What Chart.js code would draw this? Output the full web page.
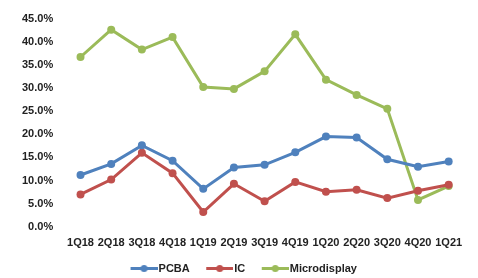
<!DOCTYPE html>
<html>
<head>
<meta charset="utf-8">
<script src="https://cdn.jsdelivr.net/npm/chart.js@4"></script>
<style>
  html, body { margin: 0; padding: 0; background: #fff; }
  #wrap { width: 478px; height: 278px; }
</style>
</head>
<body>
<div id="wrap"><canvas id="chart"></canvas></div>
<script>
var quarters = ['1Q18', '2Q18', '3Q18', '4Q18', '1Q19', '2Q19', '3Q19', '4Q19', '1Q20', '2Q20', '3Q20', '4Q20', '1Q21'];
var pcba = [11.2, 13.6, 17.6, 14.3, 8.2, 12.8, 13.4, 16.1, 19.5, 19.3, 14.6, 13.0, 14.1];
var ic = [7.0, 10.2, 16.0, 11.6, 3.2, 9.3, 5.5, 9.7, 7.6, 8.0, 6.2, 7.8, 9.1];
var microdisplay = [36.7, 42.6, 38.3, 41.0, 30.2, 29.8, 33.6, 41.6, 31.8, 28.5, 25.5, 5.8, 8.8];

var FONT = { family: '"Liberation Sans", Arial, sans-serif', size: 11, weight: 'bold' };
var GAP = 9;      // blank space before each legend marker
var LINE = 27;    // legend marker line length
var BOX = GAP + LINE;
var EXT = 4.5;    // marker runs this far past its box, up to the text

// legend marker: short line with a dot in the middle, right-aligned in the canvas
function marker(color) {
    var c = document.createElement('canvas');
    c.width = BOX + 2 * EXT; c.height = 9;
    var g = c.getContext('2d');
    var x0 = c.width - LINE;
    g.strokeStyle = color; g.lineWidth = 3;
    g.beginPath(); g.moveTo(x0, 4.5); g.lineTo(c.width, 4.5); g.stroke();
    g.fillStyle = color;
    g.beginPath(); g.arc(x0 + LINE / 2, 4.5, 3.5, 0, Math.PI * 2); g.fill();
    return c;
}

function series(label, data, color) {
    return {
        label: label,
        data: data,
        borderColor: color,
        backgroundColor: color,
        borderWidth: 3,
        pointRadius: 4,
        pointHoverRadius: 4,
        pointBorderWidth: 0,
        tension: 0
    };
}

new Chart(document.getElementById('chart'), {
    type: 'line',
    data: {
        labels: quarters,
        datasets: [
            series('PCBA', pcba, '#4F81BD'),
            series('IC', ic, '#C0504D'),
            series('Microdisplay', microdisplay, '#9BBB59')
        ]
    },
    options: {
        responsive: true,
        maintainAspectRatio: false,
        animation: false,
        layout: { padding: { left: 10, right: 14, top: 1.4, bottom: -6 } },
        scales: {
            x: {
                offset: true,
                grid: { display: false, drawTicks: false },
                border: { display: false },
                ticks: { font: FONT, color: '#222', padding: 10, maxRotation: 0, autoSkip: false }
            },
            y: {
                min: 0,
                max: 45,
                grid: { display: false, drawTicks: false },
                border: { display: false },
                ticks: {
                    stepSize: 5,
                    font: FONT,
                    color: '#222',
                    padding: 12,
                    callback: function (v) { return v.toFixed(1) + '%'; }
                }
            }
        },
        plugins: {
            tooltip: { enabled: false },
            legend: {
                position: 'bottom',
                labels: {
                    font: FONT,
                    color: '#222',
                    usePointStyle: true,
                    pointStyleWidth: BOX,
                    padding: 3,
                    generateLabels: function (chart) {
                        return chart.data.datasets.map(function (ds, i) {
                            return {
                                text: ds.label,
                                pointStyle: marker(ds.borderColor),
                                fontColor: '#222',
                                datasetIndex: i,
                                hidden: false,
                                lineWidth: 0
                            };
                        });
                    }
                }
            }
        }
    }
});
</script>
</body>
</html>
